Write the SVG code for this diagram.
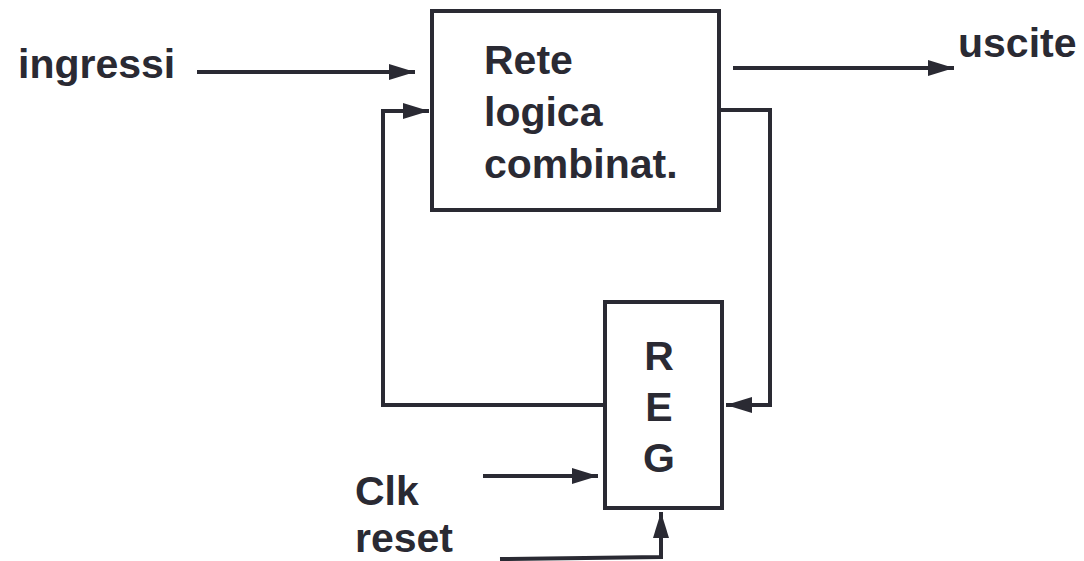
<svg xmlns="http://www.w3.org/2000/svg" width="1084" height="561" viewBox="0 0 1084 561">
<style>
.box{fill:#fff;stroke:#2a2a33;stroke-width:4}
.ln{fill:none;stroke:#2a2a33;stroke-width:4}
text{font-family:"Liberation Sans",Arial,sans-serif;font-weight:bold;font-size:41px;fill:#2a2a33}
</style>
<defs>
<marker id="ah" viewBox="0 0 26 16" refX="26" refY="8" markerWidth="26" markerHeight="16" markerUnits="userSpaceOnUse" orient="auto">
<path d="M0,0 L26,8 L0,16 Z" fill="#2a2a33"/>
</marker>
</defs>
<rect width="1084" height="561" fill="#fff"/>
<g id="rete">
<rect class="box" x="432" y="11" width="287" height="199"/>
<text x="484" y="74">Rete</text>
<text x="484" y="126">logica</text>
<text x="484" y="178">combinat.</text>
</g>
<g id="reg">
<rect class="box" x="605" y="302" width="117" height="206"/>
<text x="659" y="370" text-anchor="middle">R</text>
<text x="659" y="421" text-anchor="middle">E</text>
<text x="659" y="472" text-anchor="middle">G</text>
</g>
<g id="labels">
<text x="18" y="78">ingressi</text>
<text x="958" y="57">uscite</text>
<text x="355" y="505">Clk</text>
<text x="355" y="552">reset</text>
</g>
<g id="connectors">
<line class="ln" x1="197" y1="72" x2="415" y2="72" marker-end="url(#ah)"/>
<line class="ln" x1="733" y1="68" x2="954" y2="68" marker-end="url(#ah)"/>
<polyline class="ln" points="605,405 383,405 383,111 429,111" marker-end="url(#ah)"/>
<polyline class="ln" points="719,110 770,110 770,405 726,405" marker-end="url(#ah)"/>
<line class="ln" x1="483" y1="476" x2="598" y2="476" marker-end="url(#ah)"/>
<polyline class="ln" points="500,559 661,557 661,512" marker-end="url(#ah)"/>
</g>
</svg>
